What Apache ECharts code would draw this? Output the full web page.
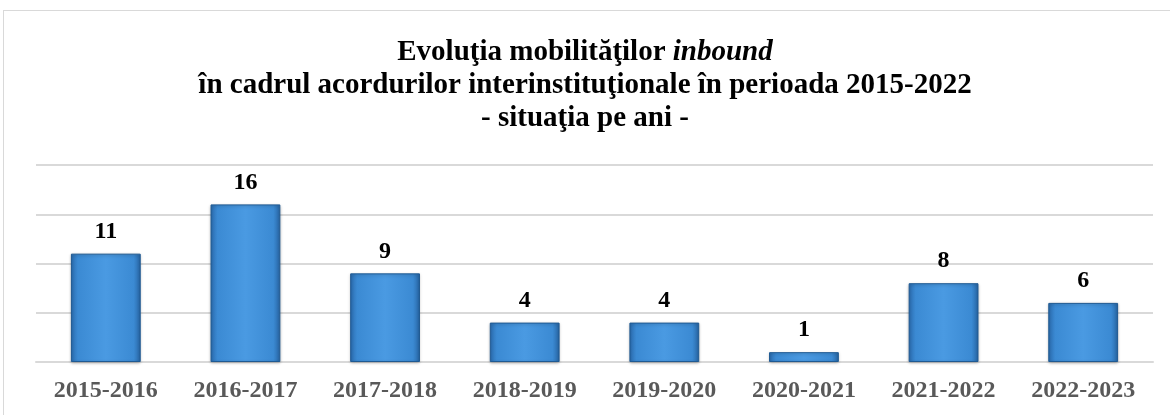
<!DOCTYPE html>
<html>
<head>
<meta charset="utf-8">
<title>Evoluţia mobilităţilor inbound</title>
<script src="https://cdn.jsdelivr.net/npm/echarts@6/dist/echarts.min.js"></script>
<style>
  html, body { margin: 0; padding: 0; background: #ffffff; }
  #frame {
    position: absolute; left: 3px; top: 10px; right: -5px; bottom: -5px;
    border: 1.5px solid #d9d9d9;
  }
  #chart { position: absolute; left: 0; top: 0; width: 1170px; height: 415px; }
</style>
</head>
<body>
<div id="frame"></div>
<div id="chart"></div>
<script>
  // ani universitari
  const categories = ['2015-2016', '2016-2017', '2017-2018', '2018-2019', '2019-2020', '2020-2021', '2021-2022', '2022-2023']
  // mobilitati inbound pe an
  const mobilitati = [11, 16, 9, 4, 4, 1, 8, 6]
  const yMax = 20
  const yStep = 5

  const serif = '"Liberation Serif", "Times New Roman", serif'

  const myChart = echarts.init(document.getElementById('chart'))

  const option = {
    animation: false,
    backgroundColor: 'transparent',
    title: {
      left: 'center',
      top: 31,
      text: '{b|Evoluţia mobilităţilor }{i|inbound}\n{b|în cadrul acordurilor interinstituţionale în perioada 2015-2022}\n{b|- situaţia pe ani -}',
      textStyle: {
        rich: {
          b: { fontFamily: serif, fontWeight: 'bold', fontSize: 29, color: '#000000', lineHeight: 33 },
          i: { fontFamily: serif, fontWeight: 'bold', fontStyle: 'italic', fontSize: 29, color: '#000000', lineHeight: 33 }
        }
      }
    },
    grid: {
      left: 36,
      right: 17,
      top: 165,
      bottom: 53
    },
    xAxis: {
      type: 'category',
      data: categories,
      axisTick: { show: false },
      axisLine: { lineStyle: { color: '#d9d9d9', width: 2 } },
      axisLabel: {
        margin: 17,
        color: '#595959',
        fontFamily: serif,
        fontWeight: 'bold',
        fontSize: 24
      }
    },
    yAxis: {
      type: 'value',
      min: 0,
      max: yMax,
      interval: yStep,
      axisLine: { show: false },
      axisTick: { show: false },
      axisLabel: { show: false },
      splitLine: { lineStyle: { color: '#d9d9d9', width: 2 } }
    },
    series: [{
      type: 'bar',
      data: mobilitati,
      barCategoryGap: '50%',
      itemStyle: {
        color: {
          type: 'linear', x: 0, y: 0, x2: 1, y2: 0,
          colorStops: [
            { offset: 0, color: '#2a6bae' },
            { offset: 0.1, color: '#3b8ad3' },
            { offset: 0.5, color: '#4a9ae2' },
            { offset: 0.9, color: '#3b8ad3' },
            { offset: 1, color: '#2765a4' }
          ]
        },
        borderColor: '#1f5a93',
        borderWidth: 1,
        shadowColor: 'rgba(0,0,0,0.25)',
        shadowBlur: 3,
        shadowOffsetY: 1
      },
      label: {
        show: true,
        position: 'top',
        distance: 10,
        color: '#000000',
        fontFamily: serif,
        fontWeight: 'bold',
        fontSize: 24
      }
    }]
  }

  myChart.setOption(option)
</script>
</body>
</html>
